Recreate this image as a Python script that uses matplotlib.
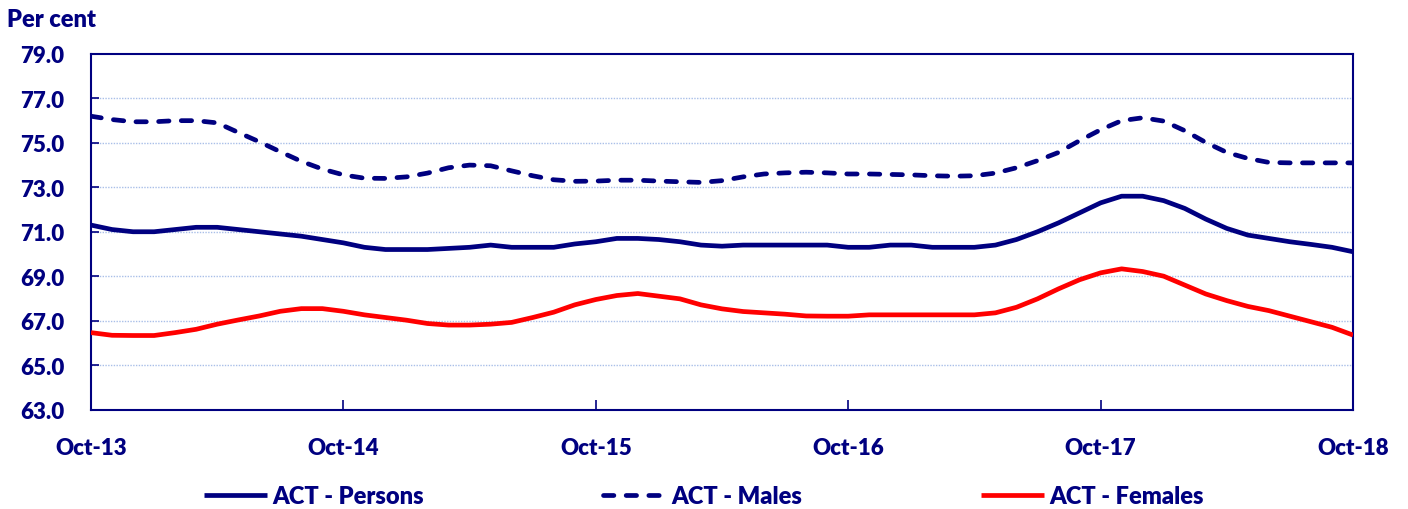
import matplotlib
matplotlib.use("Agg")
import matplotlib.pyplot as plt
import numpy as np

# ---- data ----
months = list(range(61))  # Oct-13 .. Oct-18 monthly
tick_labels = ["Oct-13", "Oct-14", "Oct-15", "Oct-16", "Oct-17", "Oct-18"]

persons = [71.3, 71.1, 71.0, 71.0, 71.1, 71.2, 71.2, 71.1, 71.0, 70.9,
           70.8, 70.65, 70.5, 70.3, 70.2, 70.2, 70.2, 70.25, 70.3, 70.4,
           70.3, 70.3, 70.3, 70.45, 70.55, 70.7, 70.7, 70.65, 70.55, 70.4,
           70.35, 70.4, 70.4, 70.4, 70.4, 70.4, 70.3, 70.3, 70.4, 70.4,
           70.3, 70.3, 70.3, 70.4, 70.65, 71.0, 71.4, 71.85, 72.3, 72.6,
           72.6, 72.4, 72.05, 71.57, 71.15, 70.85, 70.7, 70.55, 70.43, 70.3,
           70.1]

males = [76.2, 76.05, 75.95, 75.95, 76.0, 76.0, 75.9, 75.47, 75.05, 74.6,
         74.17, 73.82, 73.56, 73.41, 73.4, 73.47, 73.64, 73.88, 74.0, 73.97,
         73.74, 73.52, 73.34, 73.27, 73.28, 73.32, 73.32, 73.28, 73.25, 73.22,
         73.3, 73.47, 73.6, 73.65, 73.68, 73.65, 73.6, 73.6, 73.58, 73.56,
         73.52, 73.5, 73.52, 73.64, 73.88, 74.2, 74.57, 75.1, 75.59, 76.0,
         76.13, 75.98, 75.55, 75.02, 74.57, 74.3, 74.12, 74.1, 74.1, 74.1,
         74.1]

females = [66.46, 66.34, 66.33, 66.33, 66.46, 66.61, 66.84, 67.03, 67.21, 67.42,
           67.54, 67.54, 67.42, 67.26, 67.14, 67.02, 66.87, 66.8, 66.8, 66.84,
           66.92, 67.14, 67.38, 67.71, 67.95, 68.13, 68.22, 68.1, 67.98, 67.71,
           67.53, 67.41, 67.35, 67.29, 67.21, 67.2, 67.2, 67.26, 67.26, 67.26,
           67.26, 67.26, 67.26, 67.35, 67.6, 67.98, 68.43, 68.84, 69.15, 69.33,
           69.21, 69.0, 68.6, 68.2, 67.9, 67.64, 67.45, 67.2, 66.95, 66.7,
           66.35]

NAVY = "#000080"
RED = "#ff0000"
FONT = ["Lato", "DejaVu Sans"]
WEIGHT = "heavy"

plt.rcParams["font.family"] = FONT

fig = plt.figure(figsize=(14.08, 5.10), dpi=100)
ax = fig.add_axes([91/1408, 1-410.5/510, (1353-91)/1408, (410.5-55)/510])

ax.plot(months, persons, color=NAVY, lw=3.4, solid_capstyle="butt",
        solid_joinstyle="round", label="ACT - Persons", zorder=3)
lm, = ax.plot(months, males, color=NAVY, lw=3.4, label="ACT - Males",
              dash_capstyle="round", zorder=3)
lm.set_dashes((2.2, 2.6))
ax.plot(months, females, color=RED, lw=3.4, solid_capstyle="butt",
        solid_joinstyle="round", label="ACT - Females", zorder=3)

ax.set_xlim(0, 60)
ax.set_ylim(63, 79)
ax.set_yticks(np.arange(63, 79.1, 2))
ax.set_yticklabels([f"{v:.1f}" for v in np.arange(63, 79.1, 2)])
ax.set_xticks([0, 12, 24, 36, 48, 60])
ax.set_xticklabels(tick_labels)

for v in range(65, 79, 2):
    ax.axhline(v, color="#a9bfe8", lw=1.0, ls=(0, (1, 1)), zorder=1)

for s in ax.spines.values():
    s.set_color(NAVY)
    s.set_linewidth(1.5)

ax.tick_params(axis="y", direction="in", length=6, width=1.2, color=NAVY,
               labelcolor=NAVY, labelsize=16, pad=19)
ax.tick_params(axis="x", direction="in", length=7, width=1.2, color=NAVY,
               labelcolor=NAVY, labelsize=16, pad=20)
for lab in ax.get_yticklabels() + ax.get_xticklabels():
    lab.set_fontweight(WEIGHT)

fig.text(7/1408, 1-20/510, "Per cent", color=NAVY, fontsize=17,
         fontweight=WEIGHT, va="center", ha="left")

leg = fig.legend(loc="center", bbox_to_anchor=(0.5, 1-497/510), ncol=3,
                 frameon=False, handlelength=2.67,
                 columnspacing=7.6, handletextpad=0.2,
                 prop={"weight": WEIGHT, "size": 17})
for t in leg.get_texts():
    t.set_color(NAVY)

fig.savefig("out.png", dpi=100)
